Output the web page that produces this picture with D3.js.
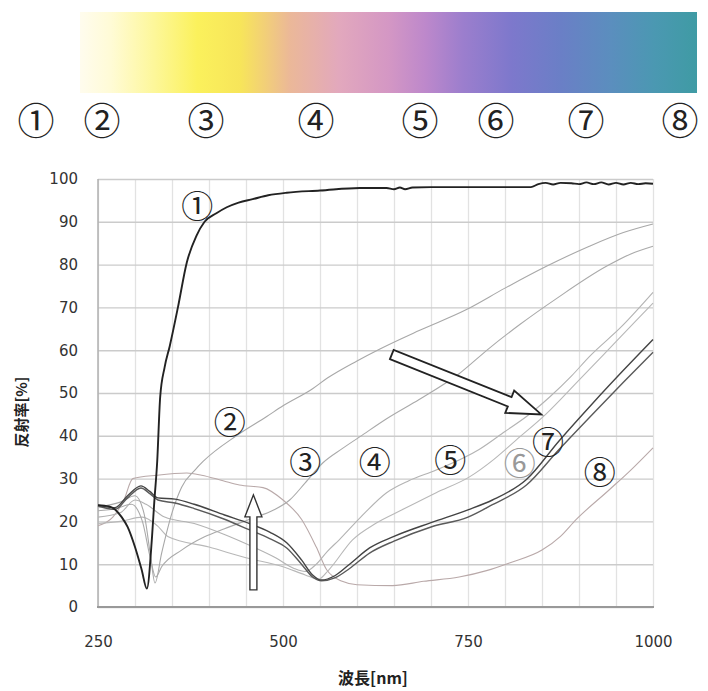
<!DOCTYPE html>
<html>
<head>
<meta charset="utf-8">
<script src="https://cdn.jsdelivr.net/npm/d3@7"></script>
<style>
  body { margin: 0; background: #fff; }
  svg { display: block; }
</style>
</head>
<body>
<svg id="chart" width="708" height="691"></svg>
<script>

// sample names (circled numbers)
var sample_names = ['①','②','③','④','⑤','⑥','⑦','⑧'];

// wavelength [nm] and reflectance [%] for each sample
var wl_1 = [250,265,273,282,290,300,309,316,323,326,330,334,340,347,358,370,383,394,410,424,440,459,480,505,550,604,640,650,658,665,675,700,750,800,835,845,855,865,875,890,900,910,920,930,940,950,960,970,980,990,1000];
var refl_1 = [23.8,23.5,22.8,21,18.7,14,8.7,4.3,16.4,24.4,34,49,56,61,70,80.5,86.7,90,92,93.4,94.5,95.3,96.2,96.8,97.3,97.9,97.9,97.6,98,97.6,98,98.1,98.1,98.1,98.1,98.8,99.1,98.7,99.1,99,98.8,99.2,98.8,99.2,98.7,99.1,98.7,99.1,98.8,99,98.9];

var wl_2 = [250,280,300,312,321,327,336,350,363,381,392,437,478,500,540,560,600,631,684,748,800,856,914,960,1000];
var refl_2 = [23.3,24.5,26,22,12,5.6,12.6,22,28,32,34,40,44.5,47,51,53.5,57.5,60.3,64.6,69.5,74.5,79.6,84.3,87.5,89.5];

var wl_3 = [250,275,295,310,320,328,336,363,394,421,455,488,509,530,554,580,604,640,684,738,779,820,869,937,970,1000];
var refl_3 = [22.5,23,24,20,12,7,9.4,13.3,16.4,18.3,20.5,22.7,25,29,33.7,37,39.8,44,48.5,54.5,60.5,66,72,79.6,82.5,84.3];

var wl_4 = [250,280,300,315,340,380,420,460,490,515,530,545,560,576,605,640,670,707,765,800,829,860,890,914,958,1000];
var refl_4 = [21,22,25,24,21,19.5,17,14,11.5,9,8.3,10,13,15.7,21,26.7,29.5,32,36.8,41,44.5,49,54,58.5,65.6,73.5];

var wl_5 = [250,280,310,330,345,400,450,500,530,548,562,594,625,661,707,752,785,815,855,900,950,1000];
var refl_5 = [19.5,20,21,19,16.4,14,11.5,9.4,7.5,6.5,8.7,15.7,19.5,22.7,26.7,30.4,34.5,39,45,53,62,71];

var wl_67 = [250,273,290,308,320,331,354,380,421,455,482,505,525,540,552,570,590,617,650,700,750,783,829,873,918,960,1000];
var refl_6 = [23.6,22.8,25.5,27.8,26.5,25,24.3,23,20.5,18,16,13.8,10,7,6.1,6.8,9,12.6,15.4,18.7,21,23.9,28.5,36.8,45,52.5,59.5];
var refl_7 = [23.8,23.2,26,28.3,27,25.5,25.2,24,21.5,19.5,17.5,15,11,7.5,6.3,7.3,10,13.8,16.5,19.7,22.7,25,29.8,38.8,47.5,55.3,62.5];

var wl_8 = [250,270,285,297,330,370,390,419,441,473,500,525,545,559,580,600,648,690,738,775,806,850,875,896,941,970,1000];
var refl_8 = [19,21,25,30,30.8,31.3,30.8,29.5,28.5,27.9,25,20.5,14,8.7,6,5.2,5,6,7,8.5,10.3,13.3,16.5,20.4,27.4,32,37.2];

// axes
var x_ticks = [250,500,750,1000];
var x_grid = [250,300,350,400,450,500,550,600,650,700,750,800,850,900,950,1000];
var y_ticks = [0,10,20,30,40,50,60,70,80,90,100];

// where the circled labels sit inside the plot [nm, %]
var label_nm = [384,428,530,624,726,820,858,928];
var label_val = [94.1,43.8,34.4,34.4,34.9,34,39.1,32.1];

// hollow arrows [nm, %]: tail and tip
var arrow_up = [[460,4],[460,26.2]];
var arrow_diag = [[647,59],[849,45]];

// colour strip above the chart
var strip_stops = [
  [0, '#fffcee'], [0.05, '#fffbd6'], [0.12, '#fdf79a'], [0.19, '#fbf15c'],
  [0.26, '#f7e55a'], [0.3, '#f2cf78'], [0.34, '#ebb898'], [0.42, '#e2a8bd'],
  [0.5, '#d497c4'], [0.56, '#bd88cb'], [0.62, '#9c7ecd'], [0.7, '#7d78cc'],
  [0.78, '#6a7fc6'], [0.86, '#5b8ebe'], [0.93, '#4b98b2'], [1, '#3f9ba4']
];
var top_label_x = [36,102,206,316,420,496,586,680];

var svg = d3.select('#chart');
var x = d3.scaleLinear().domain([250,1000]).range([98,653]);
var y = d3.scaleLinear().domain([0,100]).range([607,179]);

// ---- colour strip
var grad = svg.append('defs').append('linearGradient').attr('id','strip');
grad.selectAll('stop').data(strip_stops).enter().append('stop')
    .attr('offset', function(d){ return d[0]; })
    .attr('stop-color', function(d){ return d[1]; });
svg.append('rect').attr('x',80).attr('y',12).attr('width',617).attr('height',81)
   .attr('fill','url(#strip)');

svg.selectAll('.toplab').data(sample_names).enter().append('text')
   .attr('class','toplab')
   .attr('x', function(d,i){ return top_label_x[i]; })
   .attr('y', 119)
   .attr('text-anchor','middle')
   .attr('dominant-baseline','central')
   .style('font-family','"Noto Sans CJK JP"')
   .style('font-size','37px')
   .style('fill','#222')
   .text(function(d){ return d; });

// ---- grid
var vgrid = svg.append('g').attr('transform','translate(0,607)')
   .call(d3.axisBottom(x).tickValues(x_grid).tickSize(-428).tickFormat(''));
vgrid.select('.domain').remove();
vgrid.selectAll('line').attr('stroke','#e2e2e2').attr('stroke-width',1.3);

var hgrid = svg.append('g').attr('transform','translate(98,0)')
   .call(d3.axisLeft(y).tickValues(y_ticks).tickSize(-555).tickFormat(''));
hgrid.select('.domain').remove();
hgrid.selectAll('line').attr('stroke','#cbcbcb').attr('stroke-width',1.4);

svg.append('line').attr('x1',98).attr('x2',98).attr('y1',179).attr('y2',607)
   .attr('stroke','#b0b0b0').attr('stroke-width',1.5);
svg.append('line').attr('x1',97).attr('x2',654).attr('y1',607).attr('y2',607)
   .attr('stroke','#999').attr('stroke-width',2);

// ---- tick labels
var yax = svg.append('g').attr('transform','translate(98,0)')
   .call(d3.axisLeft(y).tickValues(y_ticks).tickSize(0).tickPadding(20));
yax.select('.domain').remove();
yax.selectAll('text').style('font-family','"DejaVu Sans"').style('font-size','15px').style('fill','#333');

var xax = svg.append('g').attr('transform','translate(0,607)')
   .call(d3.axisBottom(x).tickValues(x_ticks).tickFormat(d3.format('d')).tickSize(0).tickPadding(29));
xax.select('.domain').remove();
xax.selectAll('text').style('font-family','"DejaVu Sans"').style('font-size','15px').style('fill','#333');

svg.append('text').attr('x',373).attr('y',684).attr('text-anchor','middle')
   .style('font-family','"Noto Sans CJK JP"').style('font-weight','bold').style('font-size','16px')
   .style('fill','#222').text('波長[nm]');
svg.append('text').attr('transform','translate(27,412) rotate(-90)').attr('text-anchor','middle')
   .style('font-family','"Noto Sans CJK JP"').style('font-weight','bold').style('font-size','15px')
   .style('fill','#222').text('反射率[%]');

// ---- curves
var line = d3.line()
   .x(function(d){ return x(d[0]); })
   .y(function(d){ return y(d[1]); })
   .curve(d3.curveMonotoneX);

function zip(a, b){ return a.map(function(v,i){ return [v, b[i]]; }); }

var series = [
  {pts: zip(wl_8, refl_8), color: '#b9a9a9', w: 1.1},
  {pts: zip(wl_5, refl_5), color: '#b8b8b8', w: 1.1},
  {pts: zip(wl_4, refl_4), color: '#b3b3b3', w: 1.1},
  {pts: zip(wl_3, refl_3), color: '#aaaaaa', w: 1.1},
  {pts: zip(wl_2, refl_2), color: '#a8a8a8', w: 1.1},
  {pts: zip(wl_67, refl_6), color: '#5a5a5a', w: 1.4},
  {pts: zip(wl_67, refl_7), color: '#444444', w: 1.4},
  {pts: zip(wl_1, refl_1), color: '#222222', w: 1.9}
];

svg.append('g').selectAll('path').data(series).enter().append('path')
   .attr('d', function(d){ return line(d.pts); })
   .attr('fill','none')
   .attr('stroke', function(d){ return d.color; })
   .attr('stroke-width', function(d){ return d.w; })
   .attr('stroke-linejoin','round');

// ---- hollow arrows
function arrow_path(a, sw, hw, hl){
  var p0 = [x(a[0][0]), y(a[0][1])], p1 = [x(a[1][0]), y(a[1][1])];
  var dx = p1[0]-p0[0], dy = p1[1]-p0[1], L = Math.sqrt(dx*dx+dy*dy);
  var ux = dx/L, uy = dy/L, nx = -uy, ny = ux;
  var bx = p1[0]-ux*hl, by = p1[1]-uy*hl;
  var pts = [
    [p0[0]+nx*sw, p0[1]+ny*sw], [bx+nx*sw, by+ny*sw], [bx+nx*hw, by+ny*hw], p1,
    [bx-nx*hw, by-ny*hw], [bx-nx*sw, by-ny*sw], [p0[0]-nx*sw, p0[1]-ny*sw]
  ];
  return 'M' + pts.join('L') + 'Z';
}
svg.append('path').attr('d', arrow_path(arrow_up, 3.5, 8.5, 22))
   .attr('fill','#fff').attr('stroke','#333').attr('stroke-width',1.4).attr('stroke-linejoin','miter');
svg.append('path').attr('d', arrow_path(arrow_diag, 5, 12, 34))
   .attr('fill','#fff').attr('stroke','#222').attr('stroke-width',1.8).attr('stroke-linejoin','miter');

// ---- labels in the plot
svg.selectAll('.lab').data(sample_names).enter().append('text')
   .attr('class','lab')
   .attr('x', function(d,i){ return x(label_nm[i]); })
   .attr('y', function(d,i){ return y(label_val[i]); })
   .attr('text-anchor','middle')
   .attr('dominant-baseline','central')
   .style('font-family','"Noto Sans CJK JP"')
   .style('font-size','32px')
   .style('fill', function(d,i){ return i === 5 ? '#999' : '#222'; })
   .text(function(d){ return d; });

</script>
</body>
</html>
